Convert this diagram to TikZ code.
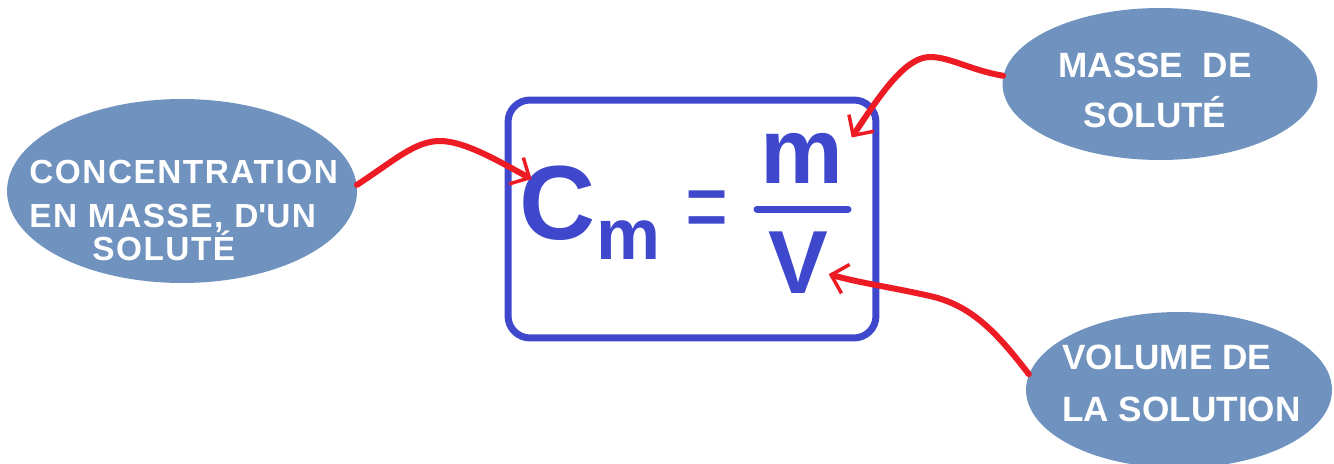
\documentclass[tikz,border=0pt]{standalone}
\usepackage{fontspec}
\setmainfont{Liberation Sans}
\usetikzlibrary{arrows.meta,calc,shapes.geometric}
\definecolor{formblue}{RGB}{63,72,204}
\definecolor{bubblefill}{RGB}{112,146,190}
\definecolor{arrowred}{RGB}{237,28,36}

\begin{document}
\begin{tikzpicture}[
    x=0.02cm, y=-0.02cm,
    bubble/.style={ellipse, fill=bubblefill, inner sep=0pt},
    caption/.style={text=white, inner sep=0pt, font=\bfseries\fontsize{20}{28.5}\selectfont},
    glyph/.style={text=formblue, inner sep=0pt, anchor=base},
    pointer/.style={arrowred, line width=0.12cm, line cap=round,
        -{Straight Barb[length=0.3cm, width=0.6cm, line width=0.07cm]}}
]
\useasboundingbox (0,0) rectangle (1334,463);

% bulles
\node[bubble, minimum width=7cm, minimum height=3.68cm] (conc) at (182,191) {};
\node[caption, anchor=north west, align=left, font=\bfseries\fontsize{19}{25}\selectfont\addfontfeature{LetterSpace=4.5}] (conctext) at (29,160)
    {CONCENTRATION\\EN MASSE, D\textquotesingle UN\\[-6.3pt]\hspace*{1.26cm}SOLUTÉ};

\node[bubble, minimum width=6.3cm, minimum height=3.04cm] (mass) at (1160,84) {};
\node[caption, anchor=north, align=center] (masstext) at (1155,53) {MASSE\ \ DE\\SOLUTÉ};

\node[bubble, minimum width=6.12cm, minimum height=3.12cm] (vol) at (1179,390) {};
\node[caption, anchor=north west, align=left, font=\bfseries\fontsize{20}{29.6}\selectfont] (voltext) at (1062,345)
    {VOLUME DE\\LA SOLUTION};

% formule
\node[draw=formblue, line width=0.14cm, rounded corners=0.44cm, minimum width=7.36cm, minimum height=4.76cm] (frame) at (692,219) {};
\node[glyph, font=\bfseries\fontsize{60}{60}\selectfont] (cC) at (558,239) {C};
\node[glyph, font=\bfseries\fontsize{41}{41}\selectfont] (cm) at (628.5,259) {m};
\node[glyph, font=\fontsize{42}{42}\selectfont] (eq) at (707.5,241) {\scalebox{1}[1.4]{=}};
\node[glyph, font=\bfseries\fontsize{53}{53}\selectfont] (num) at (802,183) {m};
\node[glyph, font=\bfseries\fontsize{51}{51}\selectfont] (den) at (798.5,293) {V};
\draw[formblue, line width=0.14cm, line cap=round] (757,209) -- (848,209);

% flèches
\draw[pointer] (conc.2) .. controls (395,160) and (415,141) .. (440,141)
    .. controls (465,141) and (500,162) .. ($(cC.north west)+(12,14)$);
\draw[pointer] (mass.177) .. controls (970,70) and (950,57) .. (930,57)
    .. controls (905,57) and (880,95) .. ($(num.north east)+(8,5)$);
\draw[pointer] (vol.174) .. controls (995,330) and (970,305) .. (930,296)
    .. controls (890,287) and (860,283) .. ($(den.east)+(0,12)$);
\end{tikzpicture}
\end{document}
